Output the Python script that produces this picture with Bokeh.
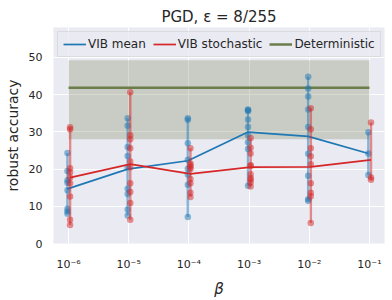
import numpy as np
from bokeh.plotting import figure
from bokeh.models import Range1d, FixedTicker, CustomJSTickFormatter, Legend, LegendItem
from bokeh.embed import file_html
from bokeh.resources import INLINE

# ---- data ----
betas = [1e-6, 1e-5, 1e-4, 1e-3, 1e-2, 1e-1]
tick_betas = [1e-6, 1e-5, 1e-4, 1e-3, 1e-2, 1e-1]
y_ticks = [0, 10, 20, 30, 40, 50]

vib_mean_runs = [
    [24.3, 19.5, 17.0, 16.3, 14.3, 9.3, 8.6, 8.0],
    [33.6, 31.6, 25.9, 23.5, 20.5, 14.7, 13.3, 9.1, 7.5],
    [33.6, 33.2, 26.9, 22.5, 20.1, 18.5, 15.8, 7.1],
    [36.0, 35.8, 35.6, 33.3, 31.3, 29.1, 27.2, 25.4, 15.5],
    [44.8, 41.6, 39.5, 36.0, 31.3, 24.1, 18.2, 11.9, 11.5],
    [29.9, 24.2, 18.4],
]
vib_stoch_runs = [
    [31.2, 30.7, 20.2, 19.1, 17.7, 16.2, 12.6, 6.4, 5.0],
    [40.6, 29.1, 28.0, 25.6, 22.0, 20.5, 16.2, 13.8, 10.9, 6.4],
    [25.6, 21.5, 21.0, 20.5, 20.0, 17.3, 16.2, 13.6, 12.5],
    [28.3, 25.7, 24.2, 21.0, 20.8, 18.6, 17.6, 17.1, 16.4, 15.3],
    [36.3, 30.7, 25.6, 23.4, 21.3, 16.2, 13.6, 12.7, 5.5],
    [32.5, 17.7, 17.1],
]
det_mean = 41.8
det_low = 28.0
det_high = 49.2

# ---- style ----
BLUE = "#1f77b4"
RED = "#d62728"
OLIVE = "#6b7d4b"
BAND = "#7c895c"
TXT = "#262626"
FONT = "DejaVu Sans"
dodge = {"blue": 0.96, "red": 1.06}

p = figure(width=392, height=300, x_axis_type="log",
           x_range=Range1d(10 ** -6.25, 10 ** -0.75), y_range=Range1d(0, 58),
           output_backend="svg", toolbar_location=None,
           min_border_left=53, min_border_right=8, min_border_top=27, min_border_bottom=56)
p.background_fill_color = "#eaeaf2"
p.border_fill_color = "white"
p.outline_line_color = None

p.title.text = "PGD, \u03b5 = 8/255"
p.title.align = "center"
p.title.text_font = FONT
p.title.text_font_size = "15px"
p.title.text_font_style = "normal"
p.title.text_color = TXT
p.title.standoff = 3

# band + deterministic line
p.varea(x=[betas[0], betas[-1]], y1=[det_low, det_low], y2=[det_high, det_high],
        fill_color=BAND, fill_alpha=0.3)
det_line = p.line(x=[betas[0], betas[-1]], y=[det_mean, det_mean], line_color=OLIVE, line_width=2.5)

def series(runs, color, fac):
    xs = [b * fac for b in betas]
    lo = [min(r) for r in runs]
    hi = [max(r) for r in runs]
    p.segment(x0=xs, y0=lo, x1=xs, y1=hi, line_color=color, line_alpha=0.5, line_width=2.5)
    px = [b * fac for b, r in zip(betas, runs) for _ in r]
    py = [v for r in runs for v in r]
    p.scatter(px, py, size=6.5, fill_color=color, fill_alpha=0.5, line_color=None)
    means = [float(np.mean(r)) for r in runs]
    return p.line(xs, means, line_color=color, line_width=1.7)

blue_line = series(vib_mean_runs, BLUE, dodge["blue"])
red_line = series(vib_stoch_runs, RED, dodge["red"])

# axes
sup_js = """
const sup = {"0":"\u2070","1":"\u00b9","2":"\u00b2","3":"\u00b3","4":"\u2074","5":"\u2075","6":"\u2076","7":"\u2077","8":"\u2078","9":"\u2079","-":"\u207b"};
const e = Math.round(Math.log10(tick));
return "10" + String(e).split("").map(c => sup[c]).join("");
"""
p.xaxis.ticker = FixedTicker(ticks=tick_betas)
p.xaxis.formatter = CustomJSTickFormatter(code=sup_js)
p.xgrid.ticker = FixedTicker(ticks=tick_betas)
p.yaxis.ticker = FixedTicker(ticks=y_ticks)
p.ygrid.ticker = FixedTicker(ticks=y_ticks)
for g in (p.xgrid, p.ygrid):
    g.grid_line_color = "white"
    g.grid_line_width = 1
    g.minor_grid_line_color = None

for ax in (p.xaxis, p.yaxis):
    ax.axis_line_color = None
    ax.major_tick_line_color = None
    ax.minor_tick_line_color = None
    ax.major_tick_out = 0
    ax.major_tick_in = 0
    ax.minor_tick_out = 0
    ax.major_label_text_font = FONT
    ax.major_label_text_font_size = "11px"
    ax.major_label_text_color = TXT
    ax.axis_label_text_font = FONT
    ax.axis_label_text_color = TXT

p.xaxis.major_label_standoff = 14
p.yaxis.major_label_standoff = 11
p.xaxis.axis_label = "\u03b2"
p.xaxis.axis_label_text_font_style = "italic"
p.xaxis.axis_label_text_font_size = "15px"
p.xaxis.axis_label_standoff = 6
p.yaxis.axis_label = "robust accuracy"
p.yaxis.axis_label_text_font_style = "normal"
p.yaxis.axis_label_text_font_size = "14px"
p.yaxis.axis_label_standoff = 5

legend = Legend(items=[LegendItem(label="VIB mean", renderers=[blue_line]),
                       LegendItem(label="VIB stochastic", renderers=[red_line]),
                       LegendItem(label="Deterministic", renderers=[det_line])],
                orientation="horizontal", location="top_left")
legend.label_text_font = FONT
legend.label_text_font_size = "12px"
legend.label_text_color = TXT
legend.glyph_width = 23
legend.glyph_height = 14
legend.label_standoff = 2
legend.spacing = 7
legend.padding = 5
legend.margin = 4
legend.label_height = 14
legend.border_line_color = "#cccccc"
legend.border_line_width = 1
legend.background_fill_color = "#eaeaf2"
legend.background_fill_alpha = 0.8
p.add_layout(legend)

open("out.html", "w").write(file_html(p, INLINE))
